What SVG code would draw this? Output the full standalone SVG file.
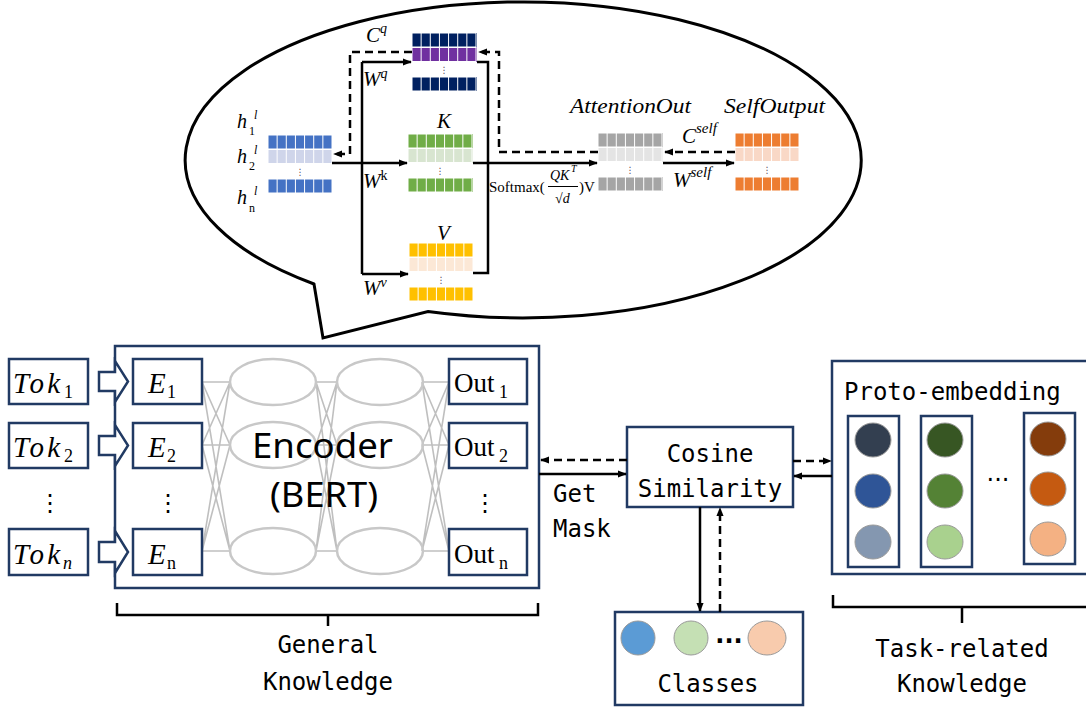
<svg xmlns="http://www.w3.org/2000/svg" xmlns:xlink="http://www.w3.org/1999/xlink" width="1086" height="713" viewBox="0 0 1086 713">
  <style>
    .box { fill: #ffffff; stroke: #213A63; stroke-width: 2.5; }
    .ell { fill: none; stroke: #C8C8C8; stroke-width: 2.5; }
    .net { fill: none; stroke: #B4B4B4; stroke-width: 1.6; stroke-opacity: 0.85; }
    .solid { fill: none; stroke: #000; stroke-width: 2.5; }
    .dash { fill: none; stroke: #000; stroke-width: 2.5; stroke-dasharray: 8 5; }
    .brace { fill: none; stroke: #000; stroke-width: 2.5; }
    .math { font-family: "Liberation Serif", "DejaVu Serif", serif; font-style: italic; fill: #000; }
    .up { font-family: "Liberation Serif", "DejaVu Serif", serif; fill: #000; }
    .mono { font-family: "DejaVu Sans Mono", "Liberation Mono", monospace; font-size: 24px; fill: #000; }
    .vdots { font-family: "DejaVu Sans", sans-serif; font-size: 9px; fill: #555; text-anchor: middle; }
    .bigdots { font-family: "DejaVu Sans", sans-serif; font-size: 24px; fill: #000; text-anchor: middle; }
    .circ { stroke: #9A9A9A; stroke-width: 1; }
  </style>
  <defs>
    <marker id="ah" viewBox="0 0 10 10" markerWidth="9" markerHeight="9" refX="9" refY="5" orient="auto" markerUnits="userSpaceOnUse">
      <path d="M0,1 L10,5 L0,9 Z" fill="#000"/>
    </marker>
    <!-- white separators splitting a row into 7 cells -->
    <path id="cells" d="M0,0H64V14H0Z M9.14,0V14 M18.29,0V14 M27.43,0V14 M36.57,0V14 M45.71,0V14 M54.86,0V14" fill="none" stroke="#fff" stroke-width="1"/>
  </defs>

  <!-- speech bubble -->
  <path id="bubble" d="M314,284 A338,158 0 1 1 428,311.5 L323,338 Z" fill="#fff" stroke="#000" stroke-width="3"/>

  <!-- attention matrices -->
  <g id="m-h" transform="translate(268,135)">
    <rect width="64" height="14" fill="#4472C4"/><rect y="14.5" width="64" height="14.5" fill="#CFD5EA"/><rect y="44" width="64" height="14" fill="#4472C4"/>
    <use href="#cells"/><use href="#cells" y="14.5"/><use href="#cells" y="44"/>
    <text class="vdots" x="32" y="40">⋮</text>
  </g>
  <g id="m-q" transform="translate(412,33)">
    <rect width="65" height="14" fill="#002060"/><rect y="14.5" width="65" height="14.5" fill="#7030A0"/><rect y="44" width="65" height="14" fill="#002060"/>
    <use href="#cells"/><use href="#cells" y="14.5"/><use href="#cells" y="44"/>
    <text class="vdots" x="32" y="40">⋮</text>
  </g>
  <g id="m-k" transform="translate(408,134)">
    <rect width="65" height="14" fill="#70AD47"/><rect y="14.5" width="65" height="14.5" fill="#D8E5D0"/><rect y="44" width="65" height="14" fill="#70AD47"/>
    <use href="#cells"/><use href="#cells" y="14.5"/><use href="#cells" y="44"/>
    <text class="vdots" x="32" y="40">⋮</text>
  </g>
  <g id="m-v" transform="translate(409,243)">
    <rect width="64" height="14" fill="#FFC000"/><rect y="14.5" width="64" height="14.5" fill="#FCE8D6"/><rect y="44" width="64" height="14" fill="#FFC000"/>
    <use href="#cells"/><use href="#cells" y="14.5"/><use href="#cells" y="44"/>
    <text class="vdots" x="32" y="40">⋮</text>
  </g>
  <g id="m-attn" transform="translate(598,133)">
    <rect width="65" height="14" fill="#A5A5A5"/><rect y="14.5" width="65" height="14.5" fill="#E4E4E4"/><rect y="44" width="65" height="14" fill="#A5A5A5"/>
    <use href="#cells"/><use href="#cells" y="14.5"/><use href="#cells" y="44"/>
    <text class="vdots" x="32" y="40">⋮</text>
  </g>
  <g id="m-self" transform="translate(735,133)">
    <rect width="64" height="14" fill="#ED7D31"/><rect y="14.5" width="64" height="14.5" fill="#F9D8C6"/><rect y="44" width="64" height="14" fill="#ED7D31"/>
    <use href="#cells"/><use href="#cells" y="14.5"/><use href="#cells" y="44"/>
    <text class="vdots" x="32" y="40">⋮</text>
  </g>

  <!-- attention labels -->
  <g id="attn-labels">
    <text class="math" font-size="20" x="237" y="128">h</text>
    <text class="math" font-size="12" x="254" y="119">l</text>
    <text class="up" font-size="12" x="249" y="135">1</text>
    <text class="math" font-size="20" x="237" y="163">h</text>
    <text class="math" font-size="12" x="254" y="154">l</text>
    <text class="up" font-size="12" x="249" y="170">2</text>
    <text class="math" font-size="20" x="237" y="204">h</text>
    <text class="math" font-size="12" x="254" y="195">l</text>
    <text class="up" font-size="12" x="249" y="212">n</text>

    <text class="math" font-size="21" x="366" y="42">C<tspan font-size="14" dy="-9">q</tspan></text>
    <text class="math" font-size="21" x="363" y="86">W<tspan font-size="14" dy="-8">q</tspan></text>
    <text class="math" font-size="21" x="437" y="128">K</text>
    <text class="math" font-size="21" x="363" y="188">W<tspan class="up" font-style="normal" font-size="14" dy="-8">k</tspan></text>
    <text class="math" font-size="21" x="437" y="240">V</text>
    <text class="math" font-size="21" x="363" y="295">W<tspan font-size="14" dy="-8">v</tspan></text>

    <text class="up" font-size="15" x="489" y="192">Softmax(</text>
    <text class="math" font-size="14" x="550" y="180">QK</text>
    <text class="math" font-size="10" x="571" y="172">T</text>
    <line x1="548" y1="186.5" x2="578" y2="186.5" stroke="#000" stroke-width="1"/>
    <text class="up" font-size="14" x="555" y="203">√<tspan class="math">d</tspan></text>
    <text class="up" font-size="15" x="579" y="192">)V</text>

    <text class="math" font-size="21" x="570" y="113" textLength="121" lengthAdjust="spacingAndGlyphs">AttentionOut</text>
    <text class="math" font-size="21" x="724" y="113" textLength="101" lengthAdjust="spacingAndGlyphs">SelfOutput</text>
    <text class="math" font-size="21" x="682" y="143">C<tspan font-size="15" dy="-10">self</tspan></text>
    <text class="math" font-size="21" x="673" y="187">W<tspan font-size="15" dy="-10">self</tspan></text>
  </g>

  <!-- encoder block -->
  <g id="encoder">
    <rect class="box" x="115" y="346" width="424" height="242"/>
    <g class="net">
      <path d="M202,382L230,382M202,382L230,445M202,382L230,551M202,445L230,382M202,445L230,445M202,445L230,551M202,551L230,382M202,551L230,445M202,551L230,551"/>
      <path d="M316,382L337,382M316,382L337,445M316,382L337,551M316,445L337,382M316,445L337,445M316,445L337,551M316,551L337,382M316,551L337,445M316,551L337,551"/>
      <path d="M422,382L449,382M422,382L449,445M422,382L449,551M422,445L449,382M422,445L449,445M422,445L449,551M422,551L449,382M422,551L449,445M422,551L449,551"/>
    </g>
    <ellipse class="ell" cx="273" cy="382" rx="43" ry="23"/>
    <ellipse class="ell" cx="273" cy="445" rx="43" ry="23"/>
    <ellipse class="ell" cx="273" cy="551" rx="43" ry="23"/>
    <ellipse class="ell" cx="380" cy="382" rx="43" ry="23"/>
    <ellipse class="ell" cx="380" cy="445" rx="43" ry="23"/>
    <ellipse class="ell" cx="380" cy="551" rx="43" ry="23"/>
    <text x="252" y="458" font-family="Noto Sans, DejaVu Sans, sans-serif" font-size="35" textLength="141" lengthAdjust="spacingAndGlyphs">Encoder</text>
    <text x="270" y="507" font-family="Noto Sans, DejaVu Sans, sans-serif" font-size="35" textLength="108" lengthAdjust="spacingAndGlyphs">(BERT)</text>
  </g>

  <!-- input tokens -->
  <g id="tok-1">
    <rect class="box" x="9" y="359" width="79" height="45"/>
    <text class="math" font-size="29" x="13" y="393" textLength="47" lengthAdjust="spacing">Tok</text><text class="up" font-size="18" x="64" y="398">1</text>
  </g>
  <g id="tok-2">
    <rect class="box" x="9" y="423" width="79" height="45"/>
    <text class="math" font-size="29" x="13" y="457" textLength="47" lengthAdjust="spacing">Tok</text><text class="up" font-size="18" x="64" y="462">2</text>
  </g>
  <g id="tok-n">
    <rect class="box" x="9" y="529" width="79" height="46"/>
    <text class="math" font-size="29" x="13" y="564" textLength="47" lengthAdjust="spacing">Tok</text><text class="math" font-size="18" x="63" y="569">n</text>
  </g>
  <text class="bigdots" x="50" y="511">⋮</text>

  <!-- embeddings -->
  <g id="emb-1">
    <rect class="box" x="133" y="359" width="69" height="45"/>
    <text class="math" font-size="29" x="148" y="393">E</text><text class="up" font-size="18" x="167" y="398">1</text>
  </g>
  <g id="emb-2">
    <rect class="box" x="133" y="423" width="69" height="45"/>
    <text class="math" font-size="29" x="148" y="457">E</text><text class="up" font-size="18" x="167" y="462">2</text>
  </g>
  <g id="emb-n">
    <rect class="box" x="133" y="529" width="69" height="46"/>
    <text class="math" font-size="29" x="148" y="564">E</text><text class="up" font-size="18" x="167" y="569">n</text>
  </g>
  <text class="bigdots" x="168" y="511">⋮</text>

  <!-- outputs -->
  <g id="out-1">
    <rect class="box" x="449" y="359" width="78" height="45"/>
    <text class="up" font-size="27" x="454" y="392">Out</text><text class="up" font-size="18" x="499" y="398">1</text>
  </g>
  <g id="out-2">
    <rect class="box" x="449" y="423" width="78" height="45"/>
    <text class="up" font-size="27" x="454" y="456">Out</text><text class="up" font-size="18" x="499" y="462">2</text>
  </g>
  <g id="out-n">
    <rect class="box" x="449" y="529" width="78" height="46"/>
    <text class="up" font-size="27" x="454" y="563">Out</text><text class="up" font-size="18" x="499" y="569">n</text>
  </g>
  <text class="bigdots" x="485" y="511">⋮</text>

  <!-- token-to-embedding block arrows -->
  <g id="tok-arrows" fill="#fff" stroke="#213A63" stroke-width="2.5" stroke-linejoin="miter">
    <path d="M99,372H115V361L128,381.5L115,402V391H99Z"/>
    <path d="M99,436H115V425L128,445.5L115,466V455H99Z"/>
    <path d="M99,542H115V531L128,552L115,573V562H99Z"/>
  </g>

  <!-- cosine similarity -->
  <g id="cosine">
    <rect class="box" x="627" y="427" width="166" height="80"/>
    <text class="mono" x="710" y="462" text-anchor="middle">Cosine</text>
    <text class="mono" x="710" y="497" text-anchor="middle">Similarity</text>
  </g>

  <!-- classes -->
  <g id="classes">
    <rect class="box" x="615" y="612" width="188" height="93"/>
    <circle class="circ" cx="638" cy="638" r="17" fill="#5B9BD5"/>
    <circle class="circ" cx="691" cy="638" r="17" fill="#C5E0B4"/>
    <text class="bigdots" font-size="20" font-weight="bold" x="729" y="643">...</text>
    <ellipse class="circ" cx="767" cy="638" rx="19" ry="17" fill="#F8CBAD"/>
    <text class="mono" x="708" y="692" text-anchor="middle">Classes</text>
  </g>

  <!-- prototype embeddings -->
  <g id="proto">
    <rect class="box" x="832" y="361" width="262" height="213"/>
    <text class="mono" x="844" y="400">Proto-embedding</text>
    <rect class="box" x="848" y="416" width="51" height="151"/>
    <rect class="box" x="921" y="416" width="51" height="151"/>
    <rect class="box" x="1024" y="413" width="51" height="151"/>
    <ellipse class="circ" cx="873" cy="440" rx="18" ry="17" fill="#333F50"/>
    <ellipse class="circ" cx="873" cy="491" rx="18" ry="17" fill="#2F5597"/>
    <ellipse class="circ" cx="873" cy="542" rx="18" ry="17" fill="#8497B0"/>
    <ellipse class="circ" cx="945" cy="440" rx="18" ry="17" fill="#375623"/>
    <ellipse class="circ" cx="945" cy="491" rx="18" ry="17" fill="#548235"/>
    <ellipse class="circ" cx="945" cy="542" rx="18" ry="17" fill="#A9D18E"/>
    <ellipse class="circ" cx="1048" cy="439" rx="18" ry="17" fill="#843C0C"/>
    <ellipse class="circ" cx="1048" cy="489" rx="18" ry="17" fill="#C55A11"/>
    <ellipse class="circ" cx="1048" cy="539" rx="18" ry="17" fill="#F4B183"/>
    <text class="bigdots" font-size="20" x="998" y="481">...</text>
  </g>

  <!-- connectors -->
  <g id="connectors">
    <!-- inside the attention layer -->
    <path class="solid" d="M332,163H407" marker-end="url(#ah)"/>
    <path class="solid" d="M362,62V274"/>
    <path class="solid" d="M362,62H411" marker-end="url(#ah)"/>
    <path class="solid" d="M362,274H408" marker-end="url(#ah)"/>
    <path class="solid" d="M477,62H488V273H473"/>
    <path class="solid" d="M473,163H597" marker-end="url(#ah)"/>
    <path class="dash" d="M598,152H499V52H479" marker-end="url(#ah)"/>
    <path class="dash" d="M412,52H350V154H334" marker-end="url(#ah)"/>
    <path class="dash" d="M735,152H665" marker-end="url(#ah)"/>
    <path class="solid" d="M663,163H734" marker-end="url(#ah)"/>
    <!-- encoder / similarity / classes / prototypes -->
    <path class="dash" d="M627,460H541" marker-end="url(#ah)"/>
    <path class="solid" d="M539,474H626" marker-end="url(#ah)"/>
    <path class="dash" d="M793,461H831" marker-end="url(#ah)"/>
    <path class="solid" d="M832,476H794" marker-end="url(#ah)"/>
    <path class="solid" d="M700,507V611" marker-end="url(#ah)"/>
    <path class="dash" d="M720,612V508" marker-end="url(#ah)"/>
  </g>
  <text class="mono" x="553" y="502">Get</text>
  <text class="mono" x="553" y="537">Mask</text>

  <!-- knowledge braces -->
  <g id="general-knowledge">
    <path class="brace" d="M117,603V615H538V603M328,615V626"/>
    <text class="mono" x="328" y="653" text-anchor="middle">General</text>
    <text class="mono" x="328" y="690" text-anchor="middle">Knowledge</text>
  </g>
  <g id="task-knowledge">
    <path class="brace" d="M833,595V607H1090M962,607V623"/>
    <text class="mono" x="962" y="657" text-anchor="middle">Task-related</text>
    <text class="mono" x="962" y="692" text-anchor="middle">Knowledge</text>
  </g>
</svg>
